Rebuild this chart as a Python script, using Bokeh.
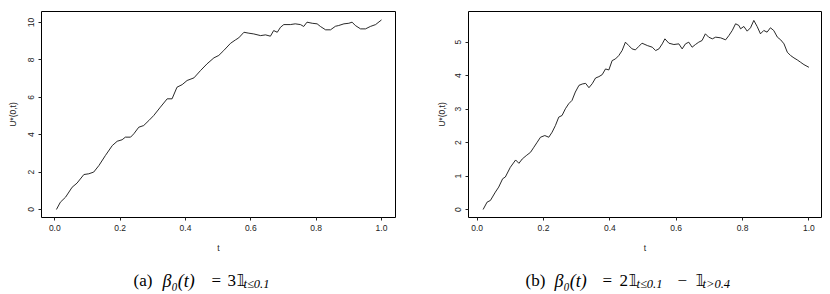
from bokeh.plotting import figure
from bokeh.layouts import row, column
from bokeh.models import Label, FixedTicker, PrintfTickFormatter
from bokeh.embed import file_html
from bokeh.resources import INLINE

# Panel (a) data: beta_0(t) = 3 1_{t<=0.1}
t_a = [0.005, 0.017, 0.033, 0.053, 0.068, 0.089, 0.104, 0.119, 0.135, 0.155,
       0.176, 0.191, 0.206, 0.216, 0.232, 0.242, 0.257, 0.272, 0.288, 0.303,
       0.323, 0.344, 0.359, 0.374, 0.390, 0.405, 0.426, 0.446, 0.466, 0.487,
       0.502, 0.517, 0.538, 0.553, 0.563, 0.579, 0.594, 0.609, 0.630, 0.645,
       0.660, 0.670, 0.681, 0.691, 0.701, 0.721, 0.736, 0.752, 0.762, 0.772,
       0.788, 0.803, 0.813, 0.829, 0.844, 0.859, 0.869, 0.885, 0.900, 0.910,
       0.920, 0.936, 0.951, 0.966, 0.982, 1.000]
u_a = [0.00, 0.39, 0.66, 1.19, 1.41, 1.87, 1.91, 2.00, 2.35, 2.89,
       3.42, 3.65, 3.73, 3.87, 3.87, 4.05, 4.40, 4.49, 4.76, 5.03,
       5.47, 5.92, 5.92, 6.54, 6.68, 6.90, 7.04, 7.43, 7.79, 8.11,
       8.24, 8.50, 8.89, 9.07, 9.18, 9.48, 9.43, 9.39, 9.30, 9.34,
       9.27, 9.57, 9.48, 9.75, 9.89, 9.89, 9.93, 9.89, 9.79, 10.02,
       9.96, 9.93, 9.79, 9.61, 9.61, 9.80, 9.84, 9.93, 9.96, 10.02,
       9.84, 9.66, 9.66, 9.79, 9.89, 10.14]

# Panel (b) data: beta_0(t) = 2 1_{t<=0.1} - 1_{t>0.4}
t_b = [0.018, 0.030, 0.040, 0.055, 0.065, 0.077, 0.085, 0.100, 0.116, 0.126,
       0.136, 0.148, 0.161, 0.171, 0.181, 0.191, 0.204, 0.216, 0.226, 0.236,
       0.246, 0.256, 0.266, 0.276, 0.286, 0.296, 0.307, 0.317, 0.327, 0.337,
       0.347, 0.357, 0.367, 0.377, 0.387, 0.397, 0.407, 0.417, 0.427, 0.437,
       0.447, 0.457, 0.467, 0.477, 0.487, 0.497, 0.513, 0.528, 0.538, 0.548,
       0.558, 0.566, 0.578, 0.593, 0.608, 0.618, 0.628, 0.638, 0.648, 0.658,
       0.668, 0.678, 0.688, 0.698, 0.709, 0.719, 0.734, 0.749, 0.759, 0.769,
       0.779, 0.789, 0.794, 0.804, 0.814, 0.824, 0.834, 0.844, 0.854, 0.864,
       0.874, 0.884, 0.894, 0.905, 0.915, 0.925, 0.935, 0.945, 0.955, 0.965,
       0.975, 0.985, 1.000]
u_b = [0.00, 0.22, 0.27, 0.52, 0.67, 0.92, 0.97, 1.26, 1.48, 1.38,
       1.51, 1.61, 1.71, 1.86, 2.01, 2.16, 2.21, 2.16, 2.31, 2.51,
       2.76, 2.81, 3.01, 3.16, 3.26, 3.51, 3.71, 3.75, 3.77, 3.64,
       3.76, 3.93, 3.97, 4.03, 4.20, 4.17, 4.45, 4.50, 4.60, 4.75,
       5.00, 4.90, 4.80, 4.77, 4.87, 4.97, 4.90, 4.85, 4.75, 4.80,
       4.95, 5.10, 4.97, 4.93, 4.95, 4.80, 4.95, 5.00, 4.85, 4.93,
       5.00, 5.05, 5.25, 5.15, 5.10, 5.15, 5.13, 5.07, 5.20, 5.35,
       5.55, 5.50, 5.40, 5.47, 5.33, 5.43, 5.65, 5.47, 5.25, 5.35,
       5.30, 5.43, 5.35, 5.15, 5.07, 4.95, 4.70, 4.60, 4.53, 4.47,
       4.40, 4.33, 4.25]

x_ticks = [0.0, 0.2, 0.4, 0.6, 0.8, 1.0]
y_ticks_a = [0, 2, 4, 6, 8, 10]
y_ticks_b = [0, 1, 2, 3, 4, 5]

# caption pieces: (text, kind)
cap_a = [("(a)", "rm"), ("β₀(t)", "it"), ("=", "rm"), ("3", "rm"),
         ("𝟙", "bb"), ("t≤0.1", "sub")]
cap_b = [("(b)", "rm"), ("β₀(t)", "it"), ("=", "rm"), ("2", "rm"),
         ("𝟙", "bb"), ("t≤0.1", "sub"), ("−", "rm"), ("𝟙", "bb"),
         ("t>0.4", "sub")]

FONT = "Liberation Sans"
SERIF = "Liberation Serif"
INK = "#222222"


def style(p, yticks, ystandoff):
    p.grid.visible = False
    p.outline_line_color = "black"
    p.outline_line_width = 1
    p.background_fill_color = "white"
    p.border_fill_color = "white"
    p.xaxis.ticker = FixedTicker(ticks=x_ticks)
    p.xaxis.formatter = PrintfTickFormatter(format="%.1f")
    p.yaxis.ticker = FixedTicker(ticks=yticks)
    p.yaxis.formatter = PrintfTickFormatter(format="%d")
    p.yaxis.major_label_orientation = "vertical"
    for ax in (p.xaxis[0], p.yaxis[0]):
        ax.axis_line_color = None
        ax.major_tick_out = 3
        ax.major_tick_in = 0
        ax.major_tick_line_color = INK
        ax.minor_tick_line_color = None
        ax.major_label_text_font = FONT
        ax.major_label_text_font_size = "8.5px"
        ax.major_label_text_color = INK
        ax.major_label_standoff = 4
        ax.axis_label_text_font = FONT
        ax.axis_label_text_font_size = "8.5px"
        ax.axis_label_text_font_style = "normal"
        ax.axis_label_text_color = INK
    p.xaxis.axis_label = "t"
    p.xaxis.axis_label_standoff = 9
    p.yaxis.axis_label = "U*(0,t)"
    p.yaxis.axis_label_standoff = ystandoff


def caption_fig(pieces, xs):
    # caption panel measured in its own pixels (x from left, y from top)
    c = figure(width=415, height=38, x_range=(0, 415), y_range=(38, 0),
               x_axis_type=None, y_axis_type=None,
               output_backend="svg", toolbar_location=None,
               min_border_left=0, min_border_right=0,
               min_border_top=0, min_border_bottom=0)
    c.grid.visible = False
    c.outline_line_color = None
    for (txt, kind), x in zip(pieces, xs):
        font, size, style_, y = SERIF, "17px", "normal", 24
        if kind == "it":
            size, style_ = "18px", "italic"
        elif kind == "bb":
            font = "DejaVu Sans"
            size = "15px"
        elif kind == "sub":
            size, style_, y = "12.5px", "italic", 27.5
        c.add_layout(Label(x=x, y=y, text=txt, text_align="left",
                           text_baseline="alphabetic", text_font=font,
                           text_font_size=size, text_font_style=style_,
                           text_color="black"))
    return c


p1 = figure(width=415, height=256, x_range=(-0.0407, 1.0429), y_range=(-0.428, 10.59),
            output_backend="svg", toolbar_location=None,
            min_border_left=41, min_border_right=20, min_border_top=11, min_border_bottom=39)
p1.line(t_a, u_a, line_color="#111111", line_width=0.9)
style(p1, y_ticks_a, 8)
c1 = caption_fig(cap_a, [133, 162, 211, 227, 236, 243])

p2 = figure(width=415, height=256, x_range=(-0.026, 1.038), y_range=(-0.239, 5.917),
            output_backend="svg", toolbar_location=None,
            min_border_left=53, min_border_right=9, min_border_top=11, min_border_bottom=39)
p2.line(t_b, u_b, line_color="#111111", line_width=0.9)
style(p2, y_ticks_b, 6)
c2 = caption_fig(cap_b, [110, 139, 187, 204, 213, 221, 262, 280, 287])

layout = column(row(p1, p2, spacing=0), row(c1, c2, spacing=0), spacing=0)
open("out.html", "w").write(file_html(layout, INLINE))
